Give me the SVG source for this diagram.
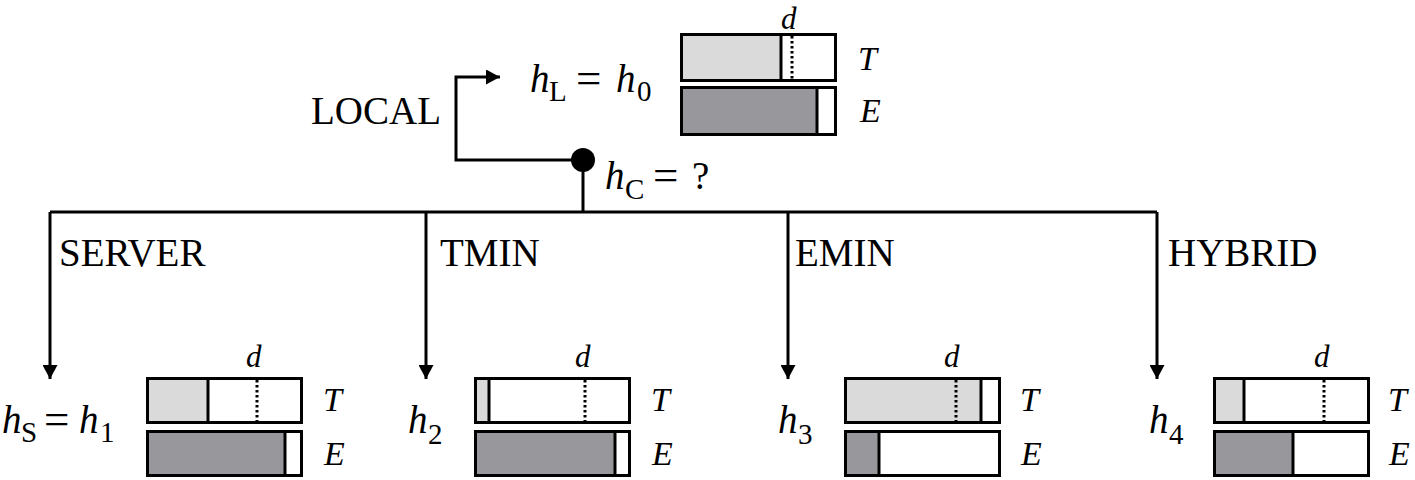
<svg xmlns="http://www.w3.org/2000/svg" width="1415" height="480" viewBox="0 0 1415 480">
<style>
text{font-family:"Liberation Serif","Times New Roman",serif;fill:#000}
.lb{font-size:39px}
.eq{font-size:45px}
.it{font-size:39px;font-style:italic}
.te{font-size:34px;font-style:italic}
.d{font-size:31px;font-style:italic}
.sub{font-size:29px;font-style:normal}
.box{fill:none;stroke:#000;stroke-width:3}
.lt{fill:#dadada}
.dk{fill:#98989c}
.sp{stroke:#000;stroke-width:3}
.dot{stroke:#000;stroke-width:3;stroke-dasharray:2.5 2.5}
.con{fill:none;stroke:#000;stroke-width:3}
</style>
<defs>
<marker id="arr" viewBox="0 0 14 15" refX="14" refY="7.5" markerWidth="14" markerHeight="15" markerUnits="userSpaceOnUse" orient="auto">
<path d="M0,0 L14,7.5 L0,15 z" fill="#000"/>
</marker>
</defs>
<rect width="1415" height="480" fill="#fff"/>

<g id="connectors">
<path class="con" d="M583,160 H456 V77 H500" marker-end="url(#arr)"/>
<path class="con" d="M583,160 V212"/>
<path class="con" d="M50,212 H1157"/>
<path class="con" d="M50,212 V379" marker-end="url(#arr)"/>
<path class="con" d="M426,212 V379" marker-end="url(#arr)"/>
<path class="con" d="M788,212 V379" marker-end="url(#arr)"/>
<path class="con" d="M1157,212 V379" marker-end="url(#arr)"/>
<circle cx="583" cy="160" r="12" fill="#000"/>
<text class="lb" x="311" y="124">LOCAL</text>
<text class="lb" x="59" y="266">SERVER</text>
<text class="lb" x="440" y="266">TMIN</text>
<text class="lb" x="795" y="266">EMIN</text>
<text class="lb" x="1168" y="266">HYBRID</text>
</g>

<g id="node-current">
<text class="it" x="605" y="189">h</text>
<text class="sub" x="625" y="199">C</text>
<text class="eq" x="653" y="190">=</text>
<text class="lb" x="692" y="189">?</text>
</g>

<g id="node-local">
<text class="it" x="530" y="92">h</text>
<text class="sub" x="549" y="101">L</text>
<text class="eq" x="576" y="93">=</text>
<text class="it" x="616" y="92">h</text>
<text class="sub" x="637" y="101">0</text>
<rect class="lt" x="681.5" y="34.5" width="99.5" height="46"/>
<rect class="dk" x="681.5" y="87.5" width="135.5" height="47"/>
<line class="dot" x1="792" y1="36" x2="792" y2="80"/>
<line class="sp" x1="781" y1="34" x2="781" y2="81"/>
<line class="sp" x1="817" y1="87" x2="817" y2="135"/>
<rect class="box" x="681.5" y="34.5" width="154" height="46"/>
<rect class="box" x="681.5" y="87.5" width="154" height="47"/>
<text class="d" x="781" y="29">d</text>
<text class="te" x="858" y="70">T</text>
<text class="te" x="860" y="122">E</text>
</g>

<g id="node-server">
<text class="it" x="2" y="433">h</text>
<text class="sub" x="21" y="442">S</text>
<text class="eq" x="44" y="434">=</text>
<text class="it" x="79" y="433">h</text>
<text class="sub" x="100" y="442">1</text>
<rect class="lt" x="147.5" y="378.5" width="60.5" height="44"/>
<rect class="dk" x="147.5" y="431.5" width="137.5" height="44"/>
<line class="dot" x1="257" y1="380" x2="257" y2="421"/>
<line class="sp" x1="208" y1="378" x2="208" y2="423"/>
<line class="sp" x1="285" y1="431" x2="285" y2="476"/>
<rect class="box" x="147.5" y="378.5" width="154" height="44"/>
<rect class="box" x="147.5" y="431.5" width="154" height="44"/>
<text class="d" x="246" y="367">d</text>
<text class="te" x="323" y="411">T</text>
<text class="te" x="324" y="465">E</text>
</g>

<g id="node-tmin">
<text class="it" x="408" y="433">h</text>
<text class="sub" x="428" y="444">2</text>
<rect class="lt" x="475.5" y="378.5" width="13.5" height="44"/>
<rect class="dk" x="475.5" y="431.5" width="139.5" height="44"/>
<line class="dot" x1="585" y1="380" x2="585" y2="421"/>
<line class="sp" x1="489" y1="378" x2="489" y2="423"/>
<line class="sp" x1="615" y1="431" x2="615" y2="476"/>
<rect class="box" x="475.5" y="378.5" width="154" height="44"/>
<rect class="box" x="475.5" y="431.5" width="154" height="44"/>
<text class="d" x="575" y="367">d</text>
<text class="te" x="651" y="411">T</text>
<text class="te" x="652" y="465">E</text>
</g>

<g id="node-emin">
<text class="it" x="778" y="433">h</text>
<text class="sub" x="798" y="444">3</text>
<rect class="lt" x="845.5" y="378.5" width="135.5" height="44"/>
<rect class="dk" x="845.5" y="431.5" width="33.5" height="44"/>
<line class="dot" x1="956" y1="380" x2="956" y2="421"/>
<line class="sp" x1="981" y1="378" x2="981" y2="423"/>
<line class="sp" x1="879" y1="431" x2="879" y2="476"/>
<rect class="box" x="845.5" y="378.5" width="154" height="44"/>
<rect class="box" x="845.5" y="431.5" width="154" height="44"/>
<text class="d" x="944" y="367">d</text>
<text class="te" x="1020" y="411">T</text>
<text class="te" x="1021" y="465">E</text>
</g>

<g id="node-hybrid">
<text class="it" x="1149" y="433">h</text>
<text class="sub" x="1169" y="444">4</text>
<rect class="lt" x="1214.5" y="378.5" width="29.5" height="44"/>
<rect class="dk" x="1214.5" y="431.5" width="78.5" height="44"/>
<line class="dot" x1="1324" y1="380" x2="1324" y2="421"/>
<line class="sp" x1="1244" y1="378" x2="1244" y2="423"/>
<line class="sp" x1="1293" y1="431" x2="1293" y2="476"/>
<rect class="box" x="1214.5" y="378.5" width="154" height="44"/>
<rect class="box" x="1214.5" y="431.5" width="154" height="44"/>
<text class="d" x="1314" y="367">d</text>
<text class="te" x="1388" y="411">T</text>
<text class="te" x="1389" y="465">E</text>
</g>
</svg>
